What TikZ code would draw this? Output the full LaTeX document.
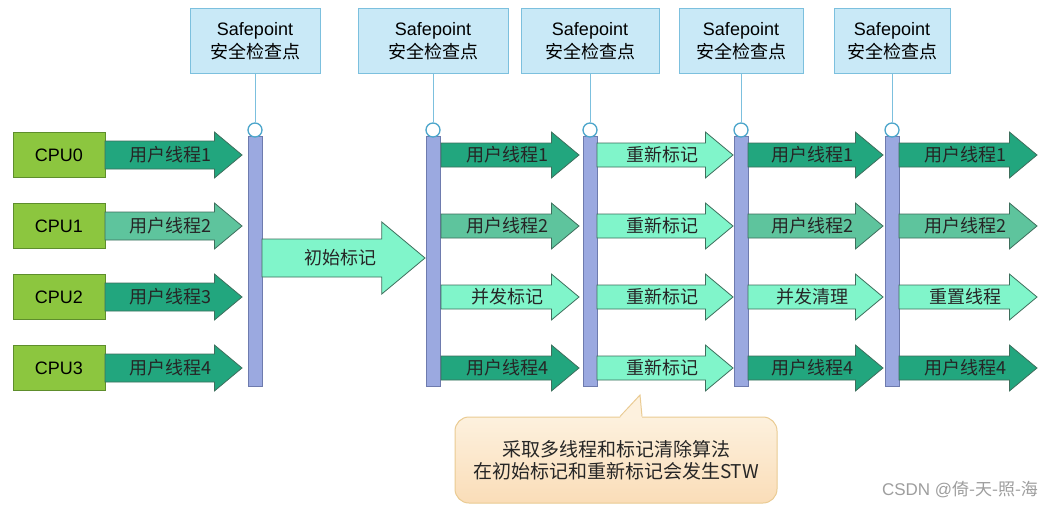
\documentclass[tikz,border=0pt]{standalone}
\usepackage{fontspec}
\setmainfont{Liberation Sans}
\newfontfamily\cjk{Noto Sans CJK SC}
\usepackage{tikz}
\usetikzlibrary{arrows.meta,calc,positioning}
\usepackage{xcolor}
\definecolor{spfill}{HTML}{C9E9F7}
\definecolor{spline}{HTML}{7CC0DE}
\definecolor{ringline}{HTML}{4BA5CB}
\definecolor{cpufill}{HTML}{8CC63F}
\definecolor{cpuline}{HTML}{5E8E2C}
\definecolor{barfill}{HTML}{9BA9E0}
\definecolor{barline}{HTML}{6E7BAE}
\definecolor{thrdark}{HTML}{22A67E}
\definecolor{thrmid}{HTML}{5EC49D}
\definecolor{thrlight}{HTML}{80F5CA}
\definecolor{arrline}{HTML}{3E6E5C}
\definecolor{notetop}{HTML}{FDF1DE}
\definecolor{notebot}{HTML}{FADDB8}
\definecolor{noteline}{HTML}{EACB92}

% block arrow: name, x start, x tip, y, shaft half, head half, colour, text
\newcommand\blockarr[8]{%
  \draw[arrline,fill=#7,line width=0.8pt]
    (#2,#4-#5) -- ({#3-1.2*#6},#4-#5) -- ({#3-1.2*#6},#4-#6) -- (#3,#4)
    -- ({#3-1.2*#6},#4+#6) -- ({#3-1.2*#6},#4+#5) -- (#2,#4+#5) -- cycle;
  \node[thrtext] (#1) at ({(#2+#3)/2-3},#4) {#8};
}

\begin{document}
\begin{tikzpicture}[x=1pt,y=-1pt,
  spbox/.style={draw=spline,fill=spfill,line width=1pt,minimum height=65pt,
    inner sep=0pt,align=center,font=\fontsize{18}{23}\selectfont},
  ring/.style={circle,draw=ringline,fill=white,line width=1.3pt,
    minimum size=14pt,inner sep=0pt},
  syncbar/.style={draw=barline,fill=barfill,line width=0.8pt,
    minimum width=14pt,minimum height=250pt,inner sep=0pt},
  cpubox/.style={draw=cpuline,fill=cpufill,line width=1pt,minimum width=92pt,
    minimum height=45pt,font=\fontsize{18}{20}\selectfont},
  thrtext/.style={inner sep=0pt,text=black!85,font=\cjk\fontsize{18}{20}\selectfont},
  note/.style={draw=noteline,line width=1pt,rounded corners=14pt,
    top color=notetop,bottom color=notebot,minimum width=322pt,
    minimum height=86pt,align=center,text=black!85,
    font=\cjk\fontsize{19}{22}\selectfont},
  watermark/.style={text=black!38,font=\fontsize{17}{20}\selectfont}]

\fill[white] (0,0) rectangle (1048,508);
\useasboundingbox (0,0) rectangle (1048,508);

% safepoints: box, line, ring and bar
\foreach \i/\x/\w in {1/255/130, 2/433/150, 3/590/138, 4/741/124, 5/892/116}{%
  \node[spbox,minimum width=\w pt] (sp\i) at (\x,41.5)
    {Safepoint\\{\cjk 安全检查点}};
  \node[syncbar,anchor=north] (bar\i) at (\x,136) {};
  \node[ring] (ring\i) at (\x,130) {};
  \draw[spline,line width=1pt] (sp\i) -- (ring\i);
}

% CPUs and their user threads
\foreach \i/\y in {0/155, 1/226, 2/297, 3/368}
  \node[cpubox] (cpu\i) at (59,\y) {CPU\i};
\foreach \r/\y/\c/\t in {1/155/thrdark/用户线程1, 2/226/thrmid/用户线程2,
                        3/297/thrdark/用户线程3, 4/368/thrdark/用户线程4}{%
  \blockarr{cpuarr\r}{105}{242}{\y}{14}{23}{\c}{\t}}

% initial mark, single threaded
\blockarr{initmark}{262}{425}{258}{19}{36}{thrlight}{初始标记}

% phases between the later safepoints
\foreach \r/\y/\c/\t in {1/155/thrdark/用户线程1, 2/226/thrmid/用户线程2,
                        3/297/thrlight/并发标记, 4/368/thrdark/用户线程4}{%
  \blockarr{colA\r}{441}{579}{\y}{12}{23}{\c}{\t}}
\foreach \r/\y in {1/155, 2/226, 3/297, 4/368}{%
  \blockarr{colB\r}{597}{733}{\y}{12}{23}{thrlight}{重新标记}}
\foreach \r/\y/\c/\t in {1/155/thrdark/用户线程1, 2/226/thrmid/用户线程2,
                        3/297/thrlight/并发清理, 4/368/thrdark/用户线程4}{%
  \blockarr{colC\r}{748}{883}{\y}{12}{23}{\c}{\t}}
\foreach \r/\y/\c/\t in {1/155/thrdark/用户线程1, 2/226/thrmid/用户线程2,
                        3/297/thrlight/重置线程, 4/368/thrdark/用户线程4}{%
  \blockarr{colD\r}{899}{1037}{\y}{12}{23}{\c}{\t}}

% callout
\node[note] (note) at (616,460)
  {采取多线程和标记清除算法\\在初始标记和重新标记会发生STW};
\coordinate (notetip) at (640,395);
\fill[notetop] ($(note.north)+(4,1.5)$) -- (notetip) -- ($(note.north)+(26,1.5)$) -- cycle;
\draw[noteline,line width=1pt]
  ($(note.north)+(4,0)$) -- (notetip) -- ($(note.north)+(26,0)$);

\node[watermark] (wm) at (960,490) {CSDN @{\cjk 倚-天-照-海}};

\end{tikzpicture}
\end{document}
